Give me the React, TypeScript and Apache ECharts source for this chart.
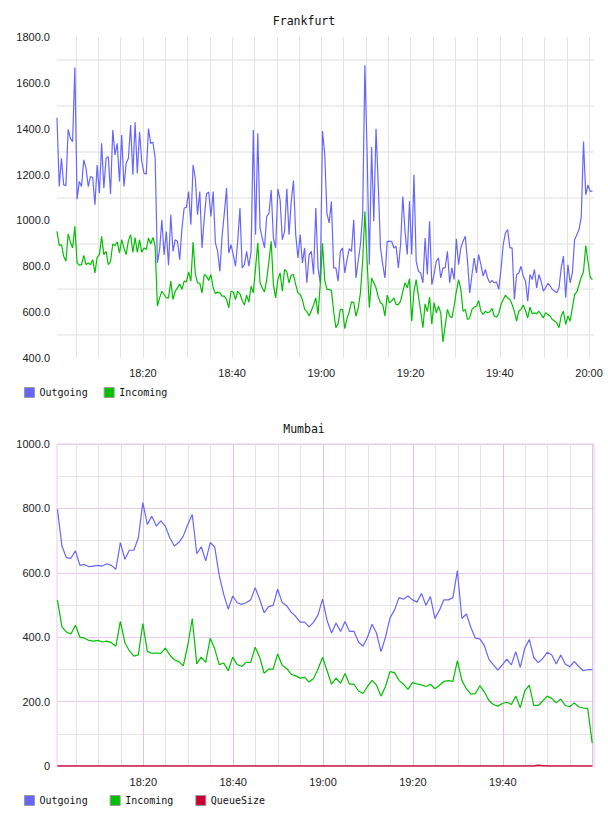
import React, { useEffect, useRef } from 'react';
import * as echarts from 'echarts';

// Frankfurt: samples every 30 s, first one at 18:00:45 (minutes after 18:00)
const frankfurtStart = 0.75;
const frankfurtStep = 0.5;
const frankfurtOutgoing = [
  1448, 1148, 1271, 1155, 1152, 1397, 1358, 1344, 1667, 1093, 1170, 1148, 1264, 1228, 1148, 1191,
  1187, 1068, 1242, 1119, 1336, 1141, 1271, 1278, 1115, 1394, 1286, 1336, 1170, 1373, 1148, 1249,
  1271, 1416, 1199, 1428, 1206, 1387, 1257, 1206, 1202, 1401, 1336, 1341, 1271, 815, 873, 1003,
  851, 952, 805, 1025, 865, 916, 909, 829, 964, 1054, 1057, 1126, 981, 1242, 1184, 1025,
  1126, 880, 1010, 1115, 1124, 1017, 1126, 902, 865, 778, 931, 1032, 1141, 858, 894, 851,
  800, 909, 1054, 793, 807, 865, 800, 865, 1394, 938, 1380, 967, 923, 880, 1017, 1032,
  1133, 923, 880, 1138, 1090, 916, 952, 1138, 938, 1083, 1174, 938, 836, 938, 815, 880,
  728, 851, 865, 764, 1054, 793, 728, 1390, 1290, 1030, 989, 1083, 793, 793, 735, 865,
  880, 771, 829, 877, 865, 1003, 749, 822, 894, 1025, 1677, 1300, 807, 1320, 996, 1400,
  1155, 880, 807, 749, 909, 909, 909, 880, 887, 793, 894, 1104, 952, 851, 1083, 851,
  1199, 822, 778, 771, 728, 923, 764, 996, 720, 764, 822, 836, 749, 793, 793, 865,
  728, 793, 742, 920, 807, 880, 909, 931, 822, 684, 764, 836, 771, 851, 807, 757,
  786, 749, 728, 738, 728, 732, 699, 786, 894, 945, 960, 880, 880, 655, 764, 771,
  800, 757, 735, 648, 764, 742, 786, 706, 764, 735, 692, 706, 725, 715, 699, 692,
  684, 706, 793, 844, 663, 807, 728, 771, 916, 938, 960, 1017, 1344, 1112, 1155, 1126,
  1129,
];
const frankfurtIncoming = [
  952, 891, 894, 844, 822, 941, 906, 880, 974, 815, 805, 807, 848, 807, 815, 807,
  829, 771, 839, 851, 931, 851, 865, 807, 822, 897, 891, 906, 858, 916, 880, 851,
  912, 938, 861, 925, 861, 916, 861, 880, 873, 923, 897, 926, 887, 626, 662, 691,
  677, 662, 662, 735, 655, 691, 706, 723, 699, 735, 732, 776, 735, 906, 767, 728,
  726, 684, 764, 757, 738, 764, 706, 680, 688, 684, 670, 670, 655, 619, 691, 688,
  655, 691, 680, 651, 631, 674, 643, 713, 684, 793, 902, 728, 706, 688, 742, 822,
  909, 720, 662, 742, 771, 691, 786, 776, 728, 761, 764, 720, 684, 677, 655, 612,
  602, 583, 606, 631, 662, 590, 720, 900, 740, 699, 699, 695, 604, 532, 550, 612,
  612, 528, 573, 602, 645, 643, 583, 616, 684, 822, 1039, 822, 619, 749, 728, 706,
  666, 641, 633, 583, 674, 641, 648, 662, 633, 633, 648, 691, 728, 706, 746, 561,
  691, 742, 670, 604, 532, 636, 602, 666, 547, 641, 597, 626, 597, 470, 540, 612,
  583, 575, 626, 691, 742, 700, 604, 612, 568, 575, 612, 622, 626, 651, 604, 590,
  604, 597, 602, 616, 583, 578, 593, 633, 655, 674, 662, 655, 633, 604, 561, 604,
  612, 631, 606, 575, 622, 593, 597, 593, 604, 590, 575, 597, 590, 583, 568, 561,
  554, 532, 583, 604, 546, 583, 561, 619, 677, 688, 720, 752, 776, 890, 822, 752,
  742,
];

// Mumbai: one sample per minute, first one at 18:00:54
const mumbaiStart = 0.9;
const mumbaiStep = 1;
const mumbaiOutgoing = [
  797, 683, 647, 645, 668, 623, 626, 619, 621, 623, 621, 628, 623, 611, 694, 642,
  670, 670, 709, 818, 750, 776, 745, 761, 745, 709, 683, 694, 714, 750, 781, 659,
  681, 637, 694, 680, 592, 533, 487, 528, 507, 502, 507, 516, 554, 518, 476, 495,
  499, 549, 508, 498, 478, 465, 447, 447, 432, 447, 470, 518, 452, 413, 444, 418,
  449, 418, 418, 385, 372, 400, 440, 413, 355, 400, 460, 484, 523, 518, 528, 516,
  509, 536, 499, 526, 458, 484, 516, 516, 523, 607, 458, 472, 430, 397, 395, 374,
  332, 314, 298, 314, 332, 314, 355, 306, 366, 393, 337, 321, 334, 353, 345, 317,
  345, 317, 308, 325, 309, 296, 299, 299,
];
const mumbaiIncoming = [
  515, 432, 416, 410, 437, 400, 397, 390, 388, 390, 385, 388, 383, 372, 449, 383,
  358, 341, 345, 442, 356, 350, 351, 350, 366, 345, 330, 324, 311, 375, 458, 317,
  338, 322, 397, 364, 315, 320, 296, 338, 315, 309, 322, 322, 369, 338, 288, 301,
  301, 348, 313, 303, 285, 280, 273, 275, 261, 272, 301, 338, 296, 254, 273, 257,
  287, 254, 254, 233, 225, 247, 266, 251, 217, 247, 293, 290, 266, 254, 238, 259,
  255, 252, 247, 254, 240, 251, 263, 265, 263, 327, 266, 240, 223, 225, 249, 230,
  204, 191, 186, 194, 198, 191, 217, 181, 233, 251, 188, 188, 202, 217, 210, 196,
  208, 188, 184, 196, 184, 180, 179, 71,
];
const mumbaiQueueSize = [
  0, 0, 0, 0, 0, 0, 0, 0, 0, 0, 0, 0, 0, 0, 0, 0,
  0, 0, 0, 0, 0, 0, 0, 0, 0, 0, 0, 0, 0, 0, 0, 0,
  0, 0, 0, 0, 0, 0, 0, 0, 0, 0, 0, 0, 0, 0, 0, 0,
  0, 0, 0, 0, 0, 0, 0, 0, 0, 0, 0, 0, 0, 0, 0, 0,
  0, 0, 0, 0, 0, 0, 0, 0, 0, 0, 0, 0, 0, 0, 0, 0,
  0, 0, 0, 0, 0, 0, 0, 0, 0, 0, 0, 0, 0, 0, 0, 0,
  0, 0, 0, 0, 0, 0, 0, 0, 0, 0, 0, 2, 1, 0, 0, 0,
  0, 0, 0, 0, 0, 0, 0, 0,
];

const frankfurtTicks = [400, 1800, 200];
const mumbaiTicks = [0, 1000, 200];

const colors = { Outgoing: '#6666ff', Incoming: '#00c000', QueueSize: '#cc0033' };

const toPairs = (values: number[], start: number, step: number) =>
  values.map((v, i) => [start + i * step, v]);

const clock = (m: number) => {
  const h = 18 + Math.floor(m / 60);
  const mm = Math.round(m % 60);
  return `${h}:${String(mm).padStart(2, '0')}`;
};

const labelFont = { fontFamily: '"Liberation Sans", Arial, sans-serif', fontSize: 11, color: '#222' };

function timeAxis(
  gridIndex: number,
  min: number,
  max: number,
  lastLabel: number,
  major: string,
  minor: string,
  margin: number,
) {
  return {
    type: 'value',
    gridIndex,
    min,
    max,
    minInterval: 20,
    maxInterval: 20,
    axisLine: { show: false },
    axisTick: { show: false },
    minorTick: { show: false, splitNumber: 4 },
    axisLabel: {
      ...labelFont,
      margin,
      showMinLabel: false,
      showMaxLabel: false,
      formatter: (v: number) => (Math.abs(v % 20) < 1e-6 && v <= lastLabel ? clock(v) : ''),
    },
    splitLine: { show: true, showMinLine: false, showMaxLine: false, lineStyle: { color: major, width: 1 } },
    minorSplitLine: { show: true, lineStyle: { color: minor, width: 1 } },
  };
}

function lineSeries(name: keyof typeof colors, data: number[][], axis: number, width = 1.2) {
  return {
    type: 'line',
    name,
    xAxisIndex: axis,
    yAxisIndex: axis,
    data,
    showSymbol: false,
    symbol: 'none',
    color: colors[name],
    lineStyle: { color: colors[name], width },
    itemStyle: { color: colors[name] },
  };
}

const legendBase = {
  left: 24,
  orient: 'horizontal',
  icon: 'rect',
  itemWidth: 10,
  itemHeight: 10,
  padding: 0,
  selectedMode: false,
  itemStyle: { borderColor: '#999999', borderWidth: 1 },
  textStyle: { fontFamily: '"DejaVu Sans Mono", monospace', fontSize: 10, color: '#111' },
};

const titleFont = { fontFamily: '"DejaVu Sans Mono", monospace', fontSize: 11.5, fontWeight: 'normal', color: '#111', lineHeight: 14 };

export default function App() {
  const ref = useRef<HTMLDivElement>(null);

  useEffect(() => {
    document.body.style.margin = '0';
    if (!ref.current) return;
    const chart = echarts.init(ref.current, null, { renderer: 'svg' });
    chart.setOption({
      animation: false,
      backgroundColor: '#ffffff',
      title: [
        { text: 'Frankfurt', left: 'center', top: 14, padding: 0, textStyle: titleFont },
        { text: 'Mumbai', left: 'center', top: 422, padding: 0, textStyle: titleFont },
      ],
      legend: [
        { ...legendBase, top: 387, itemGap: 16, data: ['Outgoing', 'Incoming'] },
        { ...legendBase, top: 795, itemGap: 22, data: ['Outgoing', 'Incoming', 'QueueSize'] },
      ],
      grid: [
        { left: 57, right: 14, top: 37, height: 321 },
        { left: 57, right: 14, top: 444, height: 322, show: true, borderColor: '#e8cbe8', borderWidth: 1, backgroundColor: 'transparent' },
      ],
      xAxis: [
        timeAxis(0, 0.75, 121.1, 120, '#e3e3e3', '#e3e3e3', 9),
        timeAxis(1, 0.8, 120.3, 100, '#dcc6de', '#e4e4e4', 10),
      ],
      yAxis: [
        {
          type: 'value',
          gridIndex: 0,
          min: frankfurtTicks[0],
          max: frankfurtTicks[1],
          interval: frankfurtTicks[2],
          axisLine: { show: false },
          axisTick: { show: false },
          minorTick: { show: false, splitNumber: 2 },
          axisLabel: { ...labelFont, margin: 7, formatter: (v: number) => v.toFixed(1) },
          splitLine: { show: false },
          minorSplitLine: { show: true, lineStyle: { color: '#efefef', width: 2 } },
        },
        {
          type: 'value',
          gridIndex: 1,
          min: mumbaiTicks[0],
          max: mumbaiTicks[1],
          interval: mumbaiTicks[2],
          axisLine: { show: false },
          axisTick: { show: false },
          minorTick: { show: false, splitNumber: 2 },
          axisLabel: { ...labelFont, margin: 7, formatter: (v: number) => (v === 0 ? '0' : v.toFixed(1)) },
          splitLine: { show: true, lineStyle: { color: '#ebcbeb', width: 1 } },
          minorSplitLine: { show: true, lineStyle: { color: '#e6e6e6', width: 1 } },
        },
      ],
      series: [
        lineSeries('Outgoing', toPairs(frankfurtOutgoing, frankfurtStart, frankfurtStep), 0),
        lineSeries('Incoming', toPairs(frankfurtIncoming, frankfurtStart, frankfurtStep), 0),
        lineSeries('Outgoing', toPairs(mumbaiOutgoing, mumbaiStart, mumbaiStep), 1),
        lineSeries('Incoming', toPairs(mumbaiIncoming, mumbaiStart, mumbaiStep), 1),
        lineSeries('QueueSize', toPairs(mumbaiQueueSize, mumbaiStart, mumbaiStep), 1, 1.5),
      ],
    });
    return () => chart.dispose();
  }, []);

  return <div ref={ref} style={{ width: 608, height: 816 }} />;
}
